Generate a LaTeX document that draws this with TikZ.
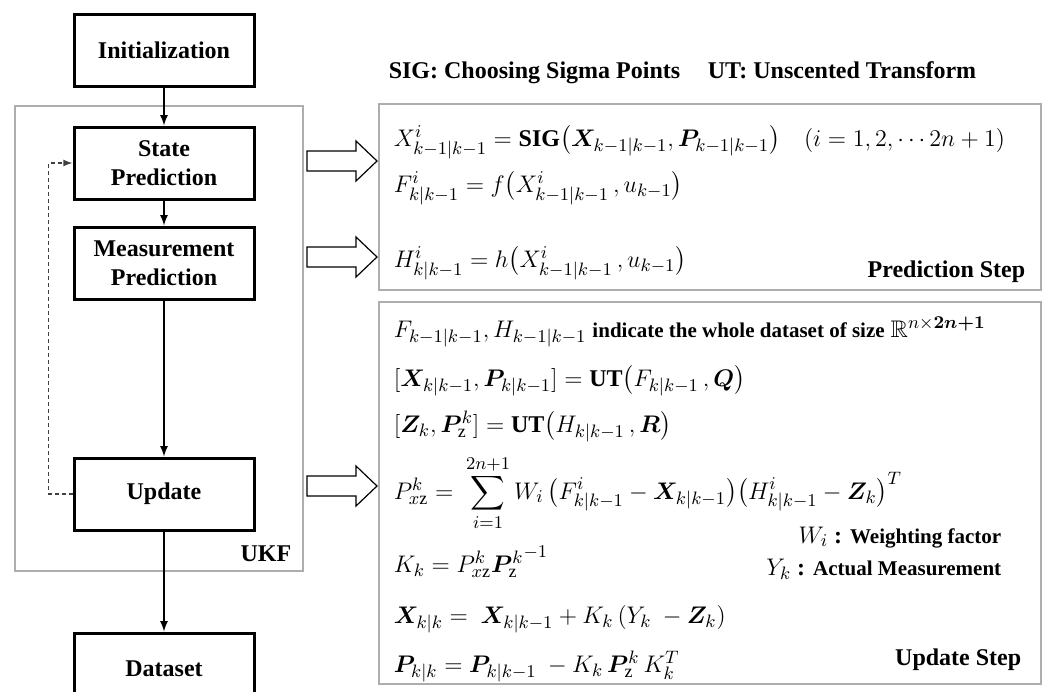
\documentclass[tikz,border=0pt]{standalone}
\usepackage{amssymb,amsmath,bm}
\usepackage{fontspec}
\setmainfont{Liberation Serif}
\DeclareMathSizes{12}{12}{9}{7}
\usetikzlibrary{arrows,positioning}

\begin{document}
\begin{tikzpicture}[x=0.5pt,y=-0.5pt,>=latex,thick,node distance=19pt,
      main node/.style={rectangle,draw,line width=1.5pt,minimum width=90pt,
        minimum height=36pt,align=center,font=\bfseries\fontsize{12}{14.5}\selectfont},
      panel/.style={draw=black!32,line width=1pt},
      eq/.style={anchor=base west,inner sep=0pt,font=\fontsize{12}{14}\selectfont},
      note/.style={anchor=base east,inner sep=0pt,font=\bfseries\fontsize{12}{14}\selectfont}]

      \useasboundingbox (0,0) rectangle (1043,691);

      % flow on the left
      \node[main node] (init) at (164,50) {Initialization};
      \node[main node] (state) [below=of init] {State\\Prediction};
      \node[main node] (meas) [below=12.5pt of state] {Measurement\\Prediction};
      \node[main node] (update) [below=78pt of meas] {Update};
      \node[main node] (dataset) [below=50pt of update] {Dataset};

      \draw[panel] (15,106) rectangle (303,571);
      \node[note] (ukf) at (292,561) {UKF};

      \path[->]
      (init) edge (state)
      (state) edge (meas)
      (meas) edge (update)
      (update) edge (dataset);
      \draw[->,semithick,black!75,dash pattern=on 2pt off 1.5pt]
      (update.west) -- ++(-12pt,0) |- (state.west);

      % hollow arrows
      \foreach \y in {161,257,486}
      \draw[semithick] (307,\y-10) -- (356,\y-10) -- (356,\y-20) -- (377,\y)
      -- (356,\y+20) -- (356,\y+10) -- (307,\y+10) -- cycle;

      \node[anchor=base west,inner sep=0pt,font=\bfseries\fontsize{12}{14}\selectfont]
      (sig) at (388,78) {SIG: Choosing Sigma Points};
      \node[anchor=base west,inner sep=0pt,font=\bfseries\fontsize{12}{14}\selectfont]
      (ut) at (707,78) {UT: Unscented Transform};

      % prediction step
      \draw[panel] (379,104) rectangle (1041,290);
      \node[eq] (xsig) at (393,146)
      {$X^i_{k-1|k-1} = \mathbf{SIG}\big(\bm{X}_{k-1|k-1}, \bm{P}_{k-1|k-1}\big)\quad (i = 1, 2, \cdots 2n+1)$};
      \node[eq] (fpred) at (393,192) {$F^i_{k|k-1} = f\big(X^i_{k-1|k-1}\,, u_{k-1}\big)$};
      \node[eq] (hpred) at (393,267) {$H^i_{k|k-1} = h\big(X^i_{k-1|k-1}\,, u_{k-1}\big)$};
      \node[note] (predstep) at (1026,277) {Prediction Step};

      % update step
      \draw[panel] (379,302) rectangle (1041,684);
      \node[eq] (fset) at (393,337) {$F_{k-1|k-1}, H_{k-1|k-1}$ {\bfseries\fontsize{10.5}{12}\selectfont
        indicate the whole dataset of size} $\mathbb{R}^{n\times\bm{2n+1}}$};
      \node[eq] (utx) at (393,386) {$[\bm{X}_{k|k-1}, \bm{P}_{k|k-1}] = \mathbf{UT}\big(F_{k|k-1}\,, \bm{Q}\big)$};
      \node[eq] (utz) at (393,432) {$[\bm{Z}_k, \bm{P}^k_{\mathrm{z}}] = \mathbf{UT}\big(H_{k|k-1}\,, \bm{R}\big)$};
      \node[eq] (pxz) at (393,499) {$P^k_{x\mathrm{z}} = \ \displaystyle\sum_{i=1}^{2n+1} W_i\,
        \big(F^i_{k|k-1} - \bm{X}_{k|k-1}\big)\big(H^i_{k|k-1} - \bm{Z}_k\big)^T$};
      \node[eq] (kk) at (393,572) {$K_k = P^k_{x\mathrm{z}}{\bm{P}^k_{\mathrm{z}}}^{-1}$};
      \node[eq] (xkk) at (393,623) {$\bm{X}_{k|k} = \ \bm{X}_{k|k-1} + K_k\,(Y_k\ - \bm{Z}_k)$};
      \node[eq] (pkk) at (393,672) {$\bm{P}_{k|k} = \bm{P}_{k|k-1}\ - K_k\,\bm{P}^k_{\mathrm{z}}\,K^T_k$};
      \node[note] (wi) at (1002,543) {$W_i$ : {\fontsize{10.5}{12}\selectfont Weighting factor}};
      \node[note] (yk) at (1002,575) {$Y_k$ : {\fontsize{10.5}{12}\selectfont Actual Measurement}};
      \node[note] (updstep) at (1022,665) {Update Step};
    \end{tikzpicture}
\end{document}
